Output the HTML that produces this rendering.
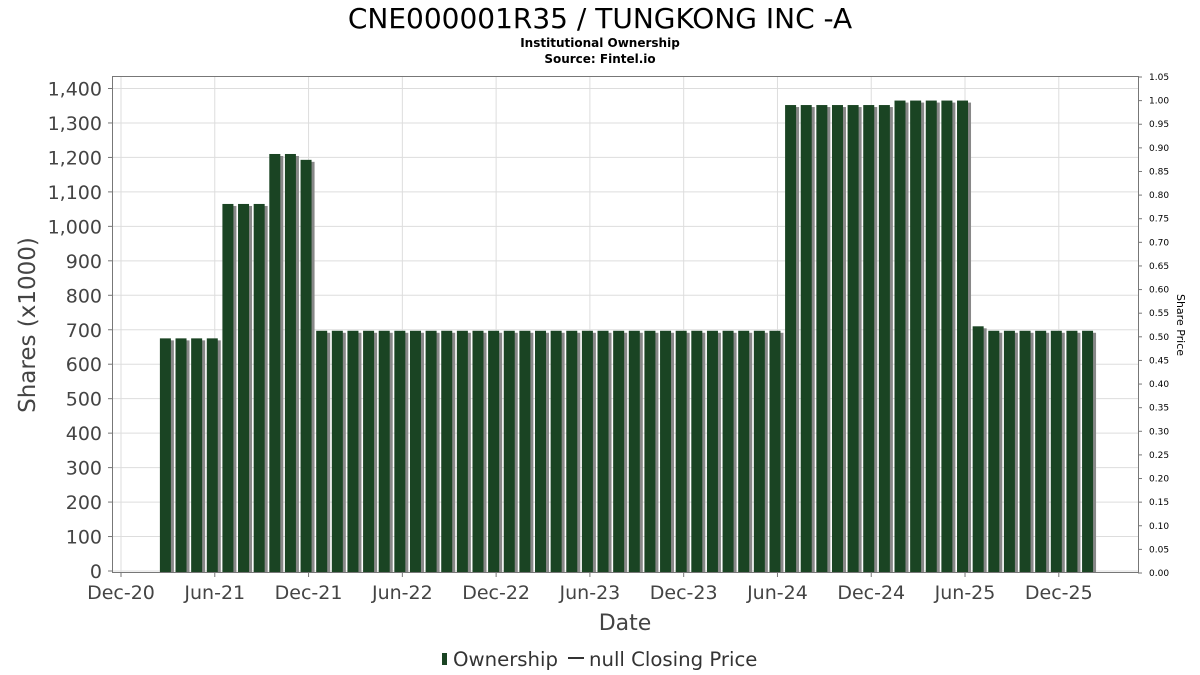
<!DOCTYPE html>
<html><head><meta charset="utf-8"><style>
html,body{margin:0;padding:0;background:#fff;}
svg{display:block;font-family:"DejaVu Sans","Liberation Sans",sans-serif;}
</style></head><body>
<svg id="chart" width="1200" height="675" viewBox="0 0 1200 675" xmlns="http://www.w3.org/2000/svg">
<text x="600" y="28" text-anchor="middle" font-size="28" fill="#000">CNE000001R35 / TUNGKONG INC -A</text>
<text x="600" y="47" text-anchor="middle" font-size="12" font-weight="bold" fill="#000">Institutional Ownership</text>
<text x="600" y="63" text-anchor="middle" font-size="12" font-weight="bold" fill="#000">Source: Fintel.io</text>
<g id="grid"></g>
<g id="bars"></g>
<rect x="112.5" y="76.5" width="1026" height="496" fill="none" stroke="#777" stroke-width="1"/>
<g id="axes"></g>
<text transform="translate(35,325) rotate(-90)" text-anchor="middle" font-size="23" fill="#444">Shares (x1000)</text>
<text transform="translate(1177,325) rotate(90)" text-anchor="middle" font-size="11" fill="#000">Share Price</text>
<text x="625" y="630" text-anchor="middle" font-size="22" fill="#444">Date</text>
<g>
<rect x="442" y="653" width="5" height="12" fill="#1a4423"/>
<text x="453" y="666" font-size="19.7" fill="#333">Ownership</text>
<line x1="568" y1="658" x2="584" y2="658" stroke="#333" stroke-width="2"/>
<text x="589" y="666" font-size="19.7" fill="#333">null Closing Price</text>
</g>
</svg>
<script>
// months since Dec-2020
const months = [3,4,5,6,7,8,9,10,11,12,13,14,15,16,17,18,19,20,21,22,23,24,25,26,27,28,29,30,31,32,33,34,35,36,37,38,39,40,41,42,43,44,45,46,47,48,49,50,51,52,53,54,55,56,57,58,59,60,61,62];
const shares = [675,675,675,675,1065,1065,1065,1210,1210,1193,
697,697,697,697,697,697,697,697,697,697,697,697,697,697,697,697,697,697,697,697,697,697,697,697,697,697,697,697,697,697,
1352,1352,1352,1352,1352,1352,1352,1365,1365,1365,1365,1365,710,697,697,697,697,697,697,697];
const yTicks = [0,100,200,300,400,500,600,700,800,900,1000,1100,1200,1300,1400];
const y2Ticks = [0,0.05,0.10,0.15,0.20,0.25,0.30,0.35,0.40,0.45,0.50,0.55,0.60,0.65,0.70,0.75,0.80,0.85,0.90,0.95,1.00,1.05];
const xTickMonths = [0,6,12,18,24,30,36,42,48,54,60];
const xTickLabels = ["Dec-20","Jun-21","Dec-21","Jun-22","Dec-22","Jun-23","Dec-23","Jun-24","Dec-24","Jun-25","Dec-25"];

const NS="http://www.w3.org/2000/svg";
const x = m => 121 + m*15.63;
const y = v => 571 - v*(482.5/1400);
const y2 = v => 573 - v*(496/1.05);
function mk(tag, attrs, parent){const e=document.createElementNS(NS,tag);for(const k in attrs)e.setAttribute(k,attrs[k]);parent.appendChild(e);return e;}
const grid=document.getElementById('grid'), bars=document.getElementById('bars'), axes=document.getElementById('axes');

yTicks.forEach(v=>{
  const g=mk('line',{x1:113,x2:1138,y1:y(v),y2:y(v),stroke:'#ddd','stroke-width':1},grid);
  
  
  const t=mk('line',{x1:108,x2:113,y1:y(v),y2:y(v),stroke:'#777'},axes);
  
  
  const l=mk('text',{x:102,y:y(v)+7,'text-anchor':'end','font-size':19,fill:'#444'},axes);
  l.textContent=v.toLocaleString('en-US');
  
  
});
y2Ticks.forEach(v=>{
  const t=mk('line',{x1:1138,x2:1142,y1:y2(v),y2:y2(v),stroke:'#777'},axes);
  
  
  const l=mk('text',{x:1149,y:y2(v)+3,'font-size':9,fill:'#000'},axes);
  l.textContent=v.toFixed(2);
  
  
});
xTickMonths.forEach((m,i)=>{
  const g=mk('line',{x1:x(m),x2:x(m),y1:77,y2:572,stroke:'#ddd'},grid);
  
  
  const t=mk('line',{x1:x(m),x2:x(m),y1:572,y2:577,stroke:'#777'},axes);
  
  
  const l=mk('text',{x:x(m),y:599,'text-anchor':'middle','font-size':19,fill:'#444'},axes);
  l.textContent=xTickLabels[i];
  
  
});
months.forEach((m,i)=>{
  const left=x(m)-8, top=y(shares[i]);
  const s=mk('rect',{x:left+3,y:top+2,width:11,height:572-top-2,fill:'#888'},bars);
  
  
  const b=mk('rect',{x:left,y:top,width:11,height:572-top,fill:'#1a4423'},bars);
  
  
});
</script>
</body></html>
